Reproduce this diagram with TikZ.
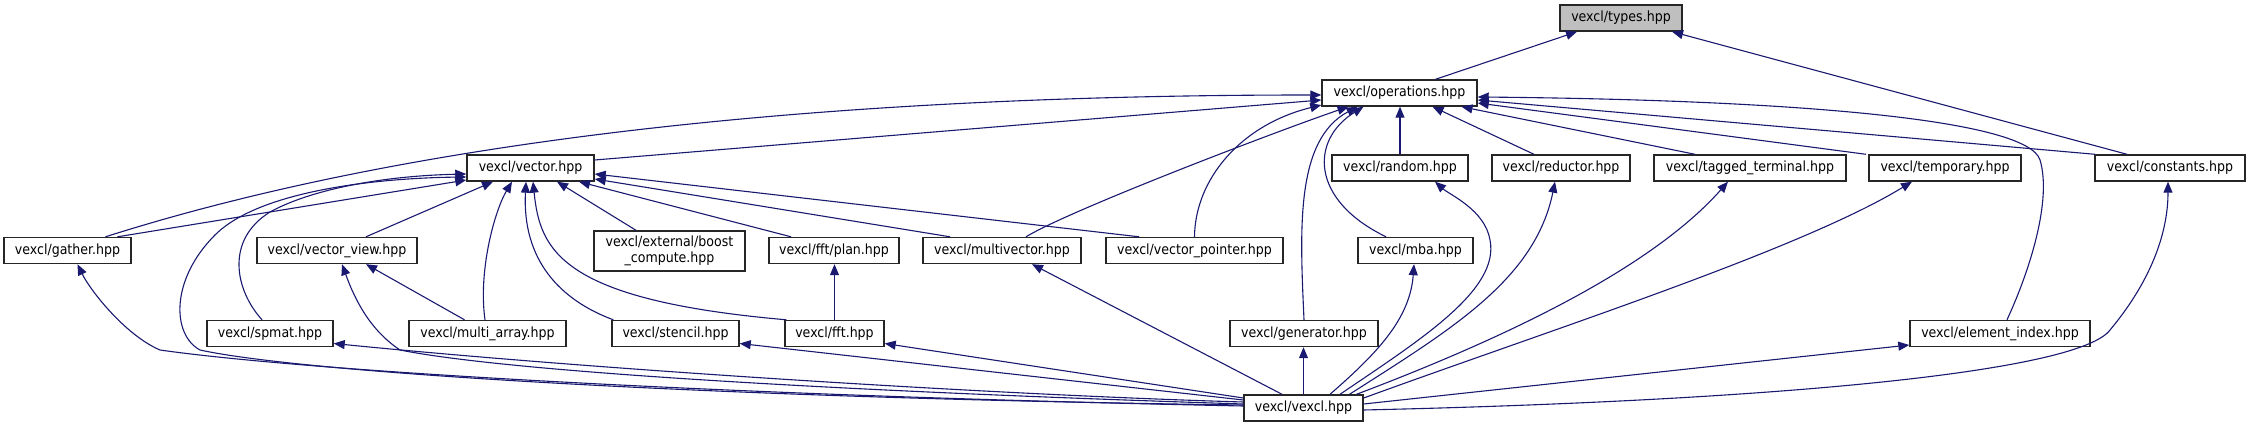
\documentclass[tikz,border=0pt]{standalone}
\usepackage{fontspec}
\setmainfont{DejaVu Sans Condensed}
\usepackage{xcolor}
\usetikzlibrary{arrows.meta}
\definecolor{edgeblue}{RGB}{25,25,112}
\definecolor{selgray}{RGB}{191,191,191}

\begin{document}
\begin{tikzpicture}[x=1pt,y=-1pt,
  font=\fontsize{14}{16}\selectfont,
  >={Triangle[length=11pt,width=9pt]},
  %--- node styles ---
  hdr/.style   ={draw=black!85,line width=1.4pt,fill=white,text=black,
                 inner sep=0pt,minimum height=26pt,align=center},
  hdrsel/.style={hdr,fill=selgray},
  %--- edge style ---
  inc/.style   ={->,line width=1.1pt,draw=edgeblue},
]
\useasboundingbox (0,0) rectangle (2251,427);

%==================== nodes ====================
\node[hdrsel,minimum width=122pt] (types)     at (1621,18)    {vexcl/types.hpp};
\node[hdr,minimum width=155pt]    (ops)       at (1399.5,93)  {vexcl/operations.hpp};

\node[hdr,minimum width=127pt]    (vector)    at (530.5,168)  {vexcl/vector.hpp};
\node[hdr,minimum width=136pt]    (random)    at (1400,168)   {vexcl/random.hpp};
\node[hdr,minimum width=138pt]    (reductor)  at (1561,168)   {vexcl/reductor.hpp};
\node[hdr,minimum width=192pt]    (tagged)    at (1750,168)   {vexcl/tagged\_terminal.hpp};
\node[hdr,minimum width=152pt]    (temporary) at (1945,168)   {vexcl/temporary.hpp};
\node[hdr,minimum width=150pt]    (constants) at (2170,168)   {vexcl/constants.hpp};

\node[hdr,minimum width=127pt]    (gather)    at (67.5,250.5) {vexcl/gather.hpp};
\node[hdr,minimum width=160pt]    (vview)     at (337,250.5)  {vexcl/vector\_view.hpp};
\node[hdr,minimum width=151pt,minimum height=40pt] (boost) at (669.5,251)
  {vexcl/external/boost\\\_compute.hpp};
\node[hdr,minimum width=130pt]    (plan)      at (834,250.5)  {vexcl/fft/plan.hpp};
\node[hdr,minimum width=158pt]    (multivec)  at (1002,250.5) {vexcl/multivector.hpp};
\node[hdr,minimum width=177pt]    (vptr)      at (1194.5,250.5) {vexcl/vector\_pointer.hpp};
\node[hdr,minimum width=115pt]    (mba)       at (1415.5,250.5) {vexcl/mba.hpp};

\node[hdr,minimum width=126pt]    (spmat)     at (270,333.5)  {vexcl/spmat.hpp};
\node[hdr,minimum width=157pt]    (marray)    at (487.5,333.5) {vexcl/multi\_array.hpp};
\node[hdr,minimum width=127pt]    (stencil)   at (675.5,333.5) {vexcl/stencil.hpp};
\node[hdr,minimum width=99pt]     (fft)       at (834.5,333.5) {vexcl/fft.hpp};
\node[hdr,minimum width=148pt]    (generator) at (1304,333.5) {vexcl/generator.hpp};
\node[hdr,minimum width=180pt]    (elemidx)   at (2000,333.5) {vexcl/element\_index.hpp};

\node[hdr,minimum width=119pt]    (vexcl)     at (1303.5,408) {vexcl/vexcl.hpp};

%==================== into types.hpp ====================
\draw[inc] ([xshift=36]ops.north) -- ([xshift=-44]types.south);
\draw[inc] ([xshift=-43]constants.north) -- ([xshift=51]types.south);

%==================== into operations.hpp ====================
\draw[inc] ([xshift=38]gather.north) .. controls (410,140) and (822,95) .. ([yshift=-2]ops.west);
\draw[inc] ([yshift=8]vector.east) -- ([yshift=-7]ops.west);
\draw[inc] (vptr.north) .. controls (1195,180) and (1240,125) .. ([yshift=-12]ops.west);
\draw[inc] ([xshift=24]multivec.north) .. controls (1070,210) and (1280,130) .. ([xshift=-51]ops.south);
\draw[inc] (generator.north) .. controls (1300,230) and (1295,140) .. ([xshift=-42]ops.south);
\draw[inc] ([xshift=-29.5]mba.north) .. controls (1310,200) and (1310,140) .. ([xshift=-36]ops.south);
\draw[inc] (random.north) -- (random.north |- ops.south);
\draw[inc] ([xshift=-27]reductor.north) -- ([xshift=33]ops.south);
\draw[inc] ([xshift=-55]tagged.north) -- ([xshift=62]ops.south);
\draw[inc] ([xshift=-79]temporary.north) -- ([yshift=-10]ops.east);
\draw[inc] ([xshift=-75]constants.north) -- ([yshift=-7]ops.east);
\draw[inc] ([xshift=7]elemidx.north) .. controls (2030,270) and (2052,200) .. (2040,160)
   .. controls (2028,120) and (1800,100) .. ([yshift=-4]ops.east);

%==================== into vector.hpp ====================
\draw[inc] ([xshift=50]gather.north) -- ([yshift=-12]vector.west);
\draw[inc] ([xshift=-8]spmat.north) .. controls (235,290) and (225,240) .. (270,212)
   .. controls (310,190) and (380,176) .. ([yshift=-6]vector.west);
\draw[inc] ([yshift=3]vexcl.west) .. controls (700,398) and (300,372) .. (200,350)
   .. controls (172,335) and (170,280) .. (215,235)
   .. controls (260,190) and (380,178) .. ([yshift=-9]vector.west);
\draw[inc] ([xshift=29]vview.north) -- ([xshift=-37.5]vector.south);
\draw[inc] ([xshift=-2.5]marray.north) .. controls (478,270) and (495,210) .. ([xshift=-18.5]vector.south);
\draw[inc] ([xshift=2]stencil.north west) .. controls (560,300) and (522,260) .. ([xshift=-4.5]vector.south);
\draw[inc] ([xshift=2]fft.north west) .. controls (560,300) and (540,250) .. ([xshift=2.5]vector.south);
\draw[inc] ([xshift=-33.5]boost.north) -- ([xshift=26.5]vector.south);
\draw[inc] ([xshift=-43]plan.north) -- ([xshift=48.5]vector.south);
\draw[inc] ([xshift=-52]multivec.north) -- ([yshift=-11]vector.east);
\draw[inc] ([xshift=-55.5]vptr.north) -- ([yshift=-6]vector.east);

%==================== lower rows ====================
\draw[inc] ([xshift=-23]marray.north) -- ([xshift=29]vview.south);
\draw[inc] (fft.north) -- (fft.north |- plan.south);

%==================== from vexcl.hpp ====================
\draw[inc] ([yshift=2]vexcl.west) .. controls (700,395) and (300,370) .. (160,350)
   .. controls (125,335) and (90,290) .. ([xshift=10]gather.south);
\draw[inc] ([yshift=6]vexcl.west) .. controls (1000,395) and (600,370) .. ([yshift=-10]spmat.east);
\draw[inc] ([yshift=4]vexcl.west) .. controls (800,390) and (500,370) .. (400,350)
   .. controls (370,330) and (355,300) .. ([xshift=5]vview.south);
\draw[inc] ([yshift=8]vexcl.west) -- ([yshift=-10]stencil.east);
\draw[inc] ([yshift=10]vexcl.west) -- ([yshift=-10]fft.east);
\draw[inc] ([xshift=-21.5]vexcl.north) -- ([xshift=30]multivec.south);
\draw[inc] (vexcl.north) -- (vexcl.north |- generator.south);
\draw[inc] ([xshift=26.5]vexcl.north) .. controls (1375,355) and (1410,320) .. ([xshift=-1.5]mba.south);
\draw[inc] ([xshift=36.5]vexcl.north) .. controls (1420,340) and (1500,290) .. (1490,240)
   .. controls (1485,210) and (1450,195) .. ([xshift=35]random.south);
\draw[inc] ([xshift=46]vexcl.north) .. controls (1450,330) and (1535,280) .. ([xshift=-6]reductor.south);
\draw[inc] ([xshift=53]vexcl.north) .. controls (1500,340) and (1650,270) .. ([xshift=-22]tagged.south);
\draw[inc] ([yshift=10]vexcl.east) .. controls (1550,330) and (1800,250) .. ([xshift=-33]temporary.south);
\draw[inc] ([yshift=4]vexcl.east) -- ([yshift=-11.5]elemidx.west);
\draw[inc] ([yshift=-2]vexcl.east) .. controls (1800,400) and (2080,370) .. (2110,330)
   .. controls (2160,270) and (2168,220) .. ([xshift=-2]constants.south);

\end{tikzpicture}
\end{document}
